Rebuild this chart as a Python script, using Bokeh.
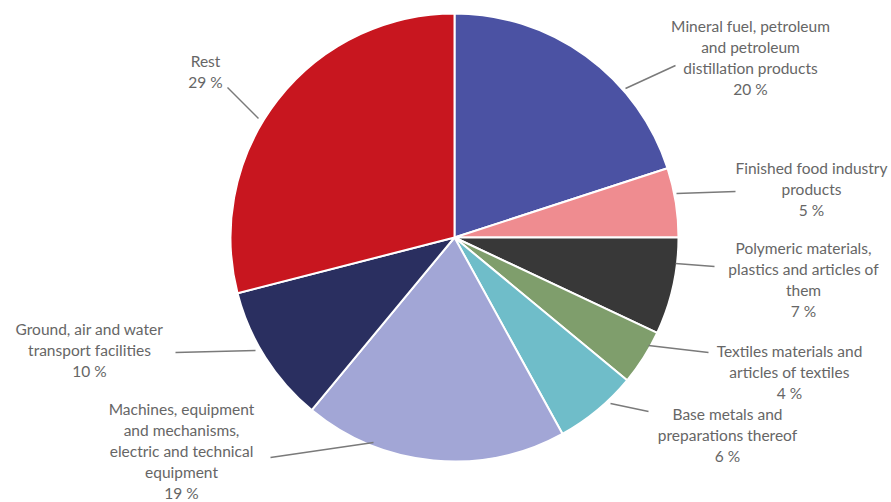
import math
from bokeh.plotting import figure
from bokeh.models import Range1d
from bokeh.core.properties import value
from bokeh.embed import file_html
from bokeh.resources import INLINE

# ---- data ----
categories = [
    "Mineral fuel, petroleum\nand petroleum\ndistillation products",
    "Finished food industry\nproducts",
    "Polymeric materials,\nplastics and articles of\nthem",
    "Textiles materials and\narticles of textiles",
    "Base metals and\npreparations thereof",
    "Machines, equipment\nand mechanisms,\nelectric and technical\nequipment",
    "Ground, air and water\ntransport facilities",
    "Rest",
]
shares = [20, 5, 7, 4, 6, 19, 10, 29]
colors = ["#4B52A3", "#EF8C90", "#383838", "#7F9E6C", "#6FBDC9",
          "#A2A6D6", "#2A2F60", "#C8161F"]

# ---- layout (image pixel coordinates) ----
W, H = 891, 502
cx, cy, R = 454, 237, 224
label_xy = [(750, 25), (811, 167), (803, 247), (789, 350),
            (727, 413), (181, 408), (89, 328), (205, 60)]
leaders = [((625, 88), (675, 65)), ((676, 193), (735, 191)),
           ((675, 263), (714, 266)), ((648, 345), (708, 352)),
           ((610, 403), (648, 411)), ((270, 457), (373, 442)),
           ((175, 352), (255, 350)), ((227, 87), (258, 118))]
LINE_H = 21.2

def Y(yimg):
    return 502 - yimg

p = figure(width=W, height=H, output_backend="svg", toolbar_location=None,
           x_range=Range1d(0, W), y_range=Range1d(502 - H, 502),
           min_border=0)
p.axis.visible = False
p.grid.visible = False
p.outline_line_color = None
p.background_fill_color = "white"
p.border_fill_color = "white"

total = float(sum(shares))
cum = 0.0
starts, ends = [], []
for s in shares:
    starts.append(math.pi / 2 - 2 * math.pi * cum / total)
    cum += s
    ends.append(math.pi / 2 - 2 * math.pi * cum / total)

p.wedge(x=[cx] * len(shares), y=[Y(cy)] * len(shares), radius=R,
        start_angle=starts, end_angle=ends, direction="clock",
        fill_color=colors, line_color="white", line_width=2)

for (a, b) in leaders:
    p.line([a[0], b[0]], [Y(a[1]), Y(b[1])], line_color="#7a7a7a", line_width=1.5)

xs, ys, ts = [], [], []
for cat, sh, (lx, ly) in zip(categories, shares, label_xy):
    lines = cat.split("\n") + [f"{sh} %"]
    for i, t in enumerate(lines):
        xs.append(lx)
        ys.append(Y(ly + i * LINE_H))
        ts.append(t)

p.text(x=xs, y=ys, text=ts, text_align="center", text_baseline="middle",
       text_font=value("Lato"), text_font_size="15.5px", text_color="#666666")

open("out.html", "w").write(file_html(p, INLINE))
